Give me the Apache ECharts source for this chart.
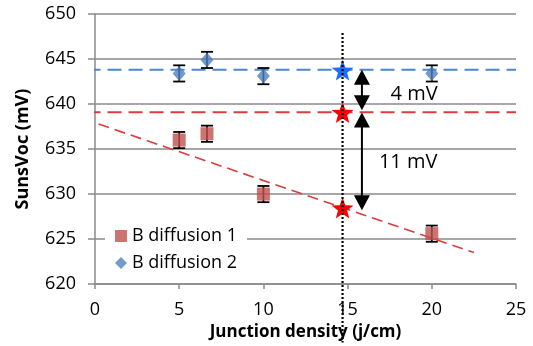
<!DOCTYPE html>
<html>
<head>
<meta charset="utf-8">
<script src="https://cdn.jsdelivr.net/npm/echarts@6/dist/echarts.min.js"></script>
<style>
html,body{margin:0;padding:0;background:#fff;}
#chart{width:533px;height:346px;}
</style>
</head>
<body>
<div id="chart"></div>
<script>
// ---- data ----
const diff1X = [5, 6.65, 10, 20];
const diff1Y = [636.0, 636.7, 630.0, 625.6];
const diff1Err = [0.9, 0.9, 0.9, 0.9];
const diff2X = [5, 6.65, 10, 20];
const diff2Y = [643.4, 644.9, 643.1, 643.4];
const diff2Err = [0.9, 0.9, 0.9, 0.9];
const seriesNames = ['B diffusion 1', 'B diffusion 2'];

const refBlueY = 643.8;
const refRedY = 639.1;
const refX = [-1.75, 25];
const trendX = [-1.7, 22.5];
const trendY = [639.0, 623.5];
const markerX = 14.7;
const markerYRange = [647.9, 613.5];
const starY = [643.8, 639.1, 628.5];
const starColors = ['#1a6dff', '#ff0000', '#ff0000'];
const arrowX = 15.85;
const arrowTop = [643.8, 639.05];
const arrowBottom = [639.3, 628.2];
const noteX = [17.55, 16.86];
const noteY = [641.1, 633.5];
const noteText = ['4 mV', '11 mV'];

const FONT = "'Open Sans', sans-serif";
const GRIDC = '#8a8a8a';

const chart = echarts.init(document.getElementById('chart'), null, {renderer: 'canvas'});

function errRender(params, api) {
  const x = api.value(0), y = api.value(1), e = api.value(2);
  const t = api.coord([x, y + e]);
  const b = api.coord([x, y - e]);
  const hw = 6;
  const st = {stroke: '#000', lineWidth: 1.8};
  return {type: 'group', children: [
    {type: 'line', shape: {x1: t[0], y1: t[1], x2: b[0], y2: b[1]}, style: st},
    {type: 'line', shape: {x1: t[0] - hw, y1: t[1], x2: t[0] + hw, y2: t[1]}, style: st},
    {type: 'line', shape: {x1: b[0] - hw, y1: b[1], x2: b[0] + hw, y2: b[1]}, style: st}
  ]};
}

function starRender(params, api) {
  const c = api.coord([api.value(0), api.value(1)]);
  const R = 11.5, r = 4.8;
  const pts = [];
  for (let k = 0; k < 10; k++) {
    const ang = -Math.PI / 2 + k * Math.PI / 5;
    const rad = k % 2 === 0 ? R : r;
    pts.push([c[0] + rad * Math.cos(ang), c[1] + 1.5 + rad * Math.sin(ang)]);
  }
  return {type: 'polygon', shape: {points: pts}, style: {fill: starColors[params.dataIndex]}};
}

function arrowRender(params, api) {
  const x = api.value(0);
  const p1 = api.coord([x, api.value(1)]);
  const p2 = api.coord([x, api.value(2)]);
  const hh = 15, hw = 8;
  return {type: 'group', children: [
    {type: 'line', shape: {x1: p1[0], y1: p1[1] + hh - 1, x2: p2[0], y2: p2[1] - hh + 1}, style: {stroke: '#000', lineWidth: 2}},
    {type: 'polygon', shape: {points: [[p1[0], p1[1]], [p1[0] - hw, p1[1] + hh], [p1[0] + hw, p1[1] + hh]]}, style: {fill: '#000'}},
    {type: 'polygon', shape: {points: [[p2[0], p2[1]], [p2[0] - hw, p2[1] - hh], [p2[0] + hw, p2[1] - hh]]}, style: {fill: '#000'}}
  ]};
}

function noteRender(params, api) {
  const p = api.coord([api.value(0), api.value(1)]);
  return {type: 'text', x: p[0], y: p[1], style: {
    text: noteText[params.dataIndex], fill: '#000', fontSize: 20, fontFamily: FONT,
    align: 'left', verticalAlign: 'middle'
  }};
}

const option = {
  backgroundColor: '#fff',
  animation: false,
  grid: {left: 95, right: 17, top: 14, bottom: 60},
  legend: {
    data: seriesNames,
    orient: 'vertical',
    left: 105, top: 223,
    backgroundColor: '#fff',
    padding: [4, 10, 4, 10],
    itemGap: 9,
    itemWidth: 12, itemHeight: 12,
    textStyle: {fontSize: 18, fontFamily: FONT, color: '#000'}
  },
  xAxis: {
    type: 'value', min: 0, max: 25, interval: 5,
    name: 'Junction density (j/cm)', nameLocation: 'middle', nameGap: 36,
    nameTextStyle: {fontSize: 17, fontWeight: 'bold', fontFamily: FONT, color: '#000'},
    axisLine: {show: true, lineStyle: {color: GRIDC, width: 1.5}},
    axisTick: {show: true, length: 5, lineStyle: {color: GRIDC, width: 1.5}},
    axisLabel: {fontSize: 18, fontFamily: FONT, color: '#000', margin: 17},
    splitLine: {show: false}
  },
  yAxis: {
    type: 'value', min: 620, max: 650, interval: 5,
    name: 'SunsVoc (mV)', nameLocation: 'middle', nameGap: 63,
    nameTextStyle: {fontSize: 18, fontWeight: 'bold', fontFamily: FONT, color: '#000'},
    axisLine: {show: true, lineStyle: {color: GRIDC, width: 1.5}},
    axisTick: {show: true, length: 7, lineStyle: {color: GRIDC, width: 1.5}},
    axisLabel: {fontSize: 18, fontFamily: FONT, color: '#000', margin: 19},
    splitLine: {show: true, lineStyle: {color: GRIDC, width: 1.5}}
  },
  series: [
    {name: 'refBlue', type: 'line', clip: false, silent: true, showSymbol: false, symbol: 'none', z: 2,
     data: refX.map(x => [x, refBlueY]), lineStyle: {color: '#4a86d4', width: 2, type: [14, 7]}},
    {name: 'refRed', type: 'line', clip: false, silent: true, showSymbol: false, symbol: 'none', z: 2,
     data: refX.map(x => [x, refRedY]), lineStyle: {color: '#dc3c3c', width: 2, type: [14, 7]}},
    {name: 'trend', type: 'line', clip: false, silent: true, showSymbol: false, symbol: 'none', z: 2,
     data: trendX.map((x, i) => [x, trendY[i]]), lineStyle: {color: '#dc3c3c', width: 1.6, type: [11, 6]}},
    {name: 'errors1', type: 'custom', renderItem: errRender, z: 3, silent: true,
     data: diff1X.map((x, i) => [x, diff1Y[i], diff1Err[i]])},
    {name: 'errors2', type: 'custom', renderItem: errRender, z: 3, silent: true,
     data: diff2X.map((x, i) => [x, diff2Y[i], diff2Err[i]])},
    {name: seriesNames[0], type: 'scatter', symbol: 'rect', symbolSize: 13, z: 4,
     itemStyle: {color: '#c0504d'}, data: diff1X.map((x, i) => [x, diff1Y[i]])},
    {name: seriesNames[1], type: 'scatter', symbol: 'diamond', symbolSize: [13, 15], z: 4,
     itemStyle: {color: '#4f81bd'}, data: diff2X.map((x, i) => [x, diff2Y[i]])},
    {name: 'stars', type: 'custom', renderItem: starRender, z: 5, clip: false, silent: true,
     data: starY.map(y => [markerX, y])},
    {name: 'marker', type: 'line', clip: false, silent: true, showSymbol: false, symbol: 'none', z: 6,
     data: markerYRange.map(y => [markerX, y]), lineStyle: {color: '#000', width: 2.2, type: [2, 2]}},
    {name: 'arrows', type: 'custom', renderItem: arrowRender, z: 6, silent: true, clip: false,
     data: arrowTop.map((t, i) => [arrowX, t, arrowBottom[i]])},
    {name: 'notes', type: 'custom', renderItem: noteRender, z: 6, silent: true, clip: false,
     data: noteX.map((x, i) => [x, noteY[i]])}
  ]
};
chart.setOption(option);
</script>
</body>
</html>
